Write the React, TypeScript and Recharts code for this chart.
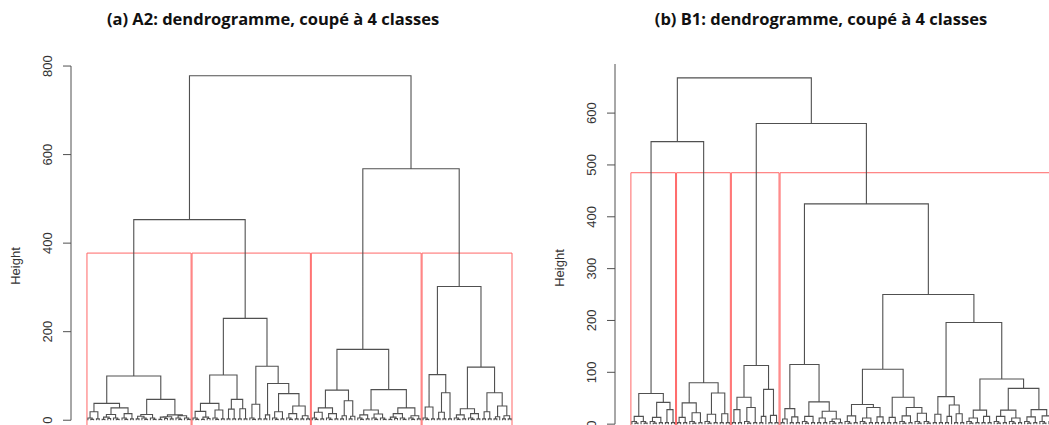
import React from "react";
import { LineChart, Line, XAxis, YAxis, ReferenceLine, Label } from "recharts";

// small bushes at the bottom of the trees (heights estimated, too small to read)
const BUSHES: Record<string, string> = {
  a: "(..)3",
  b: "(.(..)2)5",
  c: "((..)2(..)4)7",
  d: "((..)3(.(..)2)5)9",
};

// (a) A2 : the 4 classes, left to right, then merge heights (c1+c2, c3+c4, root)
const A2_CLUSTERS = [
  "(((b a)19((c b)13(b a)15)28)38((d b)13((c a)8(b b)10)12)47)100",
  "((((b c)20(b a)23)38((a a)25(a a)26)47)102((b a)36((a .)12((b a)19((b a)15(a a)10)32)60)83)122)230",
  "((((b a)18(b a)15)28((a .)10(a .)9)44)68(((b a)12(b b)14)23((c b)15(b a)10)28)69)160",
  "(((b a)30((a a)18 a)62)103(((b a)12(b a)15)26((a a)19((a .)8(a a)10)32)62)120)302",
];
const A2_UPPER = [453, 568, 778];
const A2_TICKS = [0, 200, 400, 600, 800];

// (b) B1
const B1_CLUSTERS = [
  "((b b)15((b a)13(a a)28)42)59",
  "(((a a)13(b a)22)41((b a)19(a a)20)60)80",
  "(((a a)28(b a)32)52((a .)15(a a)17)67)113",
  "((((a .)10(a a)14)30((b a)15((a a)12(b a)10)25)43)115((((b a)16((b a)12(a a)14)32)38((a a)13((b a)16(b b)21)32)52)106(((a a)19((a .)15(a a)20)37)53(((b a)12(a a)15)27(((b a)15(b a)12)27((b a)14(b b)16)28)69)87)196)250)425",
];
const B1_UPPER = [545, 580, 668];
const B1_TICKS = [0, 100, 200, 300, 400, 500, 600];

const TITLES = [
  "(a) A2: dendrogramme, coupé à 4 classes",
  "(b) B1: dendrogramme, coupé à 4 classes",
];

type Node = { h: number; x: number; n: number; kids?: Node[] };

function parse(src: string): Node {
  let i = 0;
  const skip = () => {
    while (src[i] === " ") i++;
  };
  const node = (): Node => {
    skip();
    const ch = src[i];
    if (ch === "(") {
      i++;
      const kids: Node[] = [];
      skip();
      while (src[i] !== ")") {
        kids.push(node());
        skip();
      }
      i++;
      let num = "";
      while (i < src.length && /[0-9]/.test(src[i])) num += src[i++];
      return { h: Number(num), x: 0, n: 0, kids };
    }
    i++;
    if (ch === ".") return { h: 0, x: 0, n: 1 };
    return parse(BUSHES[ch]);
  };
  return node();
}

function layout(nd: Node, next: { v: number }) {
  if (!nd.kids) {
    nd.x = next.v++;
    nd.n = 1;
    return;
  }
  nd.kids.forEach((k) => layout(k, next));
  nd.x = (nd.kids[0].x + nd.kids[nd.kids.length - 1].x) / 2;
  nd.n = nd.kids.reduce((s, k) => s + k.n, 0);
}

function buildPanel(clusters: string[], upper: number[]) {
  const [c1, c2, c3, c4] = clusters;
  const root = parse(`((${c1} ${c2})${upper[0]} (${c3} ${c4})${upper[1]})${upper[2]}`);
  layout(root, { v: 1 });
  const N = root.n;
  const maxH = root.h;

  const tree: { x: number; y: number | null }[] = [];
  const heights: number[] = [];
  const walk = (nd: Node) => {
    if (!nd.kids) return;
    heights.push(nd.h);
    const [l, r] = nd.kids;
    tree.push(
      { x: l.x, y: l.h },
      { x: l.x, y: nd.h },
      { x: r.x, y: nd.h },
      { x: r.x, y: r.h },
      { x: r.x, y: null }
    );
    nd.kids.forEach(walk);
  };
  walk(root);

  // rect.hclust style boxes, cut between the 3rd and 4th highest merge
  heights.sort((a, b) => b - a);
  const cut = (heights[2] + heights[3]) / 2;
  const yMin = -0.04 * maxH;
  const sizes = [root.kids![0].kids![0].n, root.kids![0].kids![1].n, root.kids![1].kids![0].n, root.kids![1].kids![1].n];
  const rects: { x: number; y: number | null }[] = [];
  let m = 0;
  sizes.forEach((s) => {
    const x1 = m + 0.66;
    const x2 = m + s + 0.33;
    rects.push(
      { x: x1, y: yMin },
      { x: x1, y: cut },
      { x: x2, y: cut },
      { x: x2, y: yMin },
      { x: x2, y: null }
    );
    m += s;
  });

  return {
    tree,
    rects,
    xDomain: [1 - 0.04 * (N - 1), N + 0.04 * (N - 1)],
    yDomain: [yMin, maxH * 1.04],
  };
}

const AXIS_W = 71;
const PLOT_W = 457;
const INK = "#505050";
const FONT = "'Liberation Sans', Arial, sans-serif";

function Tick(props: any) {
  const { x, y, payload } = props;
  const cx = x - 13.5;
  return (
    <text
      x={cx}
      y={y}
      transform={`rotate(-90 ${cx} ${y})`}
      textAnchor="middle"
      dominantBaseline="central"
      fontSize={13}
      fontFamily={FONT}
      fill="#333"
    >
      {payload.value}
    </text>
  );
}

function HeightLabel(props: any) {
  const vb = props.viewBox;
  const cx = vb.x + 15;
  const cy = vb.y + 204;
  return (
    <text
      x={cx}
      y={cy}
      transform={`rotate(-90 ${cx} ${cy})`}
      textAnchor="middle"
      dominantBaseline="central"
      fontSize={13}
      fontFamily={FONT}
      fill="#333"
    >
      Height
    </text>
  );
}

function Dendro({ clusters, upper, ticks, axisTop, top, plotH }: any) {
  const p = buildPanel(clusters, upper);
  return (
    <LineChart
      width={AXIS_W + PLOT_W}
      height={top + plotH}
      margin={{ top, right: 0, bottom: 0, left: 0 }}
    >
      <XAxis type="number" dataKey="x" domain={p.xDomain} allowDataOverflow hide />
      <YAxis
        type="number"
        domain={p.yDomain}
        allowDataOverflow
        ticks={ticks}
        width={AXIS_W}
        axisLine={false}
        tickSize={8}
        tickMargin={2}
        tickLine={{ stroke: INK }}
        tick={<Tick />}
        interval={0}
      >
        <Label content={<HeightLabel />} />
      </YAxis>
      <ReferenceLine
        segment={[
          { x: p.xDomain[0], y: 0 },
          { x: p.xDomain[0], y: axisTop ?? p.yDomain[1] },
        ]}
        stroke={INK}
        ifOverflow="visible"
      />
      <Line
        data={p.rects}
        dataKey="y"
        type="linear"
        stroke="#ff6666"
        strokeWidth={1}
        dot={false}
        activeDot={false}
        isAnimationActive={false}
      />
      <Line
        data={p.tree}
        dataKey="y"
        type="linear"
        stroke={INK}
        strokeWidth={1.1}
        dot={false}
        activeDot={false}
        isAnimationActive={false}
      />
    </LineChart>
  );
}

const titleStyle: React.CSSProperties = {
  position: "absolute",
  top: 8,
  width: 600,
  textAlign: "center",
  fontFamily: "'Open Sans', Lato, sans-serif",
  fontWeight: 700,
  fontSize: 16.5,
  lineHeight: "22px",
  color: "#111",
};

export default function App() {
  return (
    <div
      style={{
        position: "absolute",
        left: 0,
        top: 0,
        width: 1049,
        height: 425,
        overflow: "hidden",
        background: "#fff",
      }}
    >
      <div style={{ ...titleStyle, left: 273 - 300 }}>{TITLES[0]}</div>
      <div style={{ ...titleStyle, left: 821 - 300 }}>{TITLES[1]}</div>
      <div style={{ position: "absolute", left: 0, top: 0 }}>
        <Dendro clusters={A2_CLUSTERS} upper={A2_UPPER} ticks={A2_TICKS} axisTop={800} top={62} plotH={372} />
      </div>
      <div style={{ position: "absolute", left: 615 - AXIS_W, top: 0 }}>
        <Dendro clusters={B1_CLUSTERS} upper={B1_UPPER} ticks={B1_TICKS} top={64} plotH={374} />
      </div>
    </div>
  );
}
